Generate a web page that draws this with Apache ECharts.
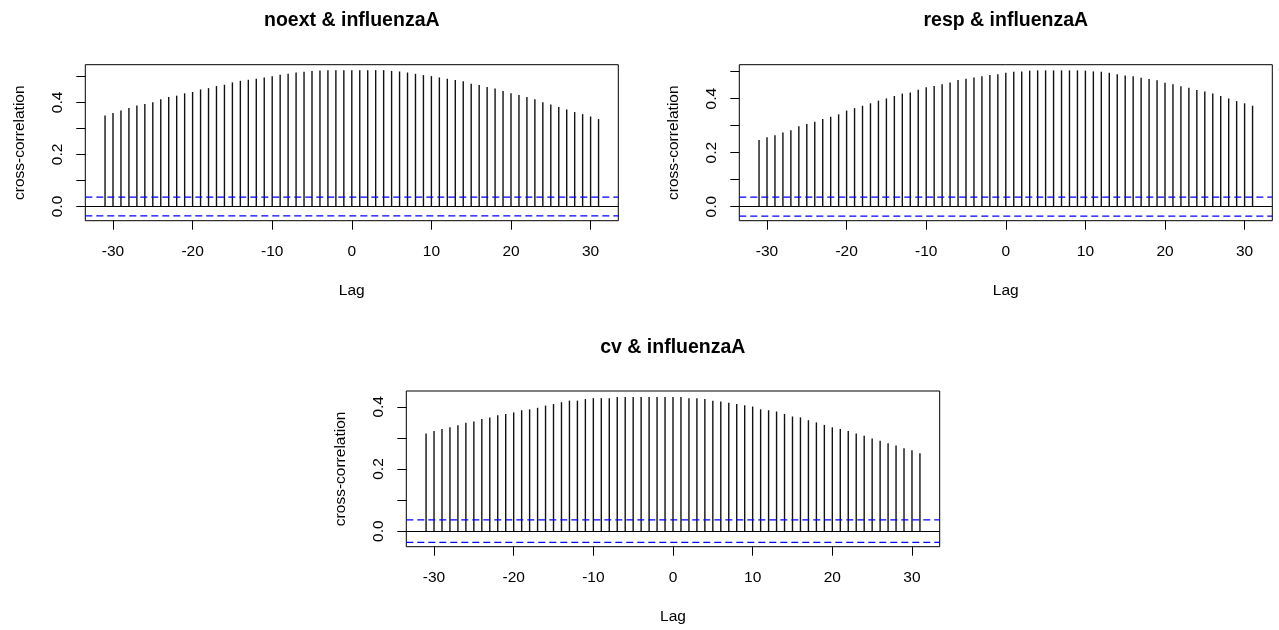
<!DOCTYPE html>
<html>
<head>
<meta charset="utf-8">
<script src="https://cdn.jsdelivr.net/npm/echarts@6/dist/echarts.min.js"></script>
<style>html,body{margin:0;padding:0;background:#fff}#c{width:1279px;height:630px}</style>
</head>
<body>
<div id="c"></div>
<script>
const lags = [-31,-30,-29,-28,-27,-26,-25,-24,-23,-22,-21,-20,-19,-18,-17,-16,-15,-14,-13,-12,-11,-10,-9,-8,-7,-6,-5,-4,-3,-2,-1,0,1,2,3,4,5,6,7,8,9,10,11,12,13,14,15,16,17,18,19,20,21,22,23,24,25,26,27,28,29,30,31];
const noext = [0.350,0.359,0.369,0.379,0.388,0.394,0.401,0.412,0.421,0.426,0.435,0.440,0.450,0.455,0.463,0.468,0.477,0.483,0.487,0.491,0.496,0.501,0.506,0.510,0.515,0.518,0.521,0.523,0.524,0.524,0.524,0.524,0.524,0.524,0.524,0.524,0.521,0.519,0.515,0.510,0.505,0.501,0.496,0.491,0.486,0.481,0.472,0.467,0.459,0.454,0.444,0.435,0.429,0.421,0.412,0.401,0.392,0.382,0.373,0.363,0.355,0.346,0.336];
const resp = [0.247,0.257,0.265,0.275,0.283,0.298,0.306,0.315,0.325,0.333,0.342,0.356,0.365,0.374,0.383,0.393,0.401,0.410,0.419,0.423,0.433,0.442,0.447,0.454,0.460,0.469,0.474,0.479,0.483,0.488,0.491,0.496,0.500,0.501,0.504,0.505,0.505,0.505,0.505,0.505,0.505,0.504,0.501,0.500,0.496,0.491,0.486,0.483,0.478,0.473,0.468,0.459,0.454,0.446,0.441,0.432,0.427,0.419,0.410,0.401,0.391,0.383,0.374];
const cv = [0.314,0.322,0.329,0.334,0.341,0.349,0.353,0.361,0.366,0.373,0.377,0.382,0.389,0.392,0.397,0.404,0.409,0.415,0.420,0.420,0.425,0.428,0.428,0.428,0.432,0.432,0.432,0.432,0.432,0.432,0.432,0.432,0.432,0.428,0.428,0.425,0.420,0.417,0.413,0.409,0.405,0.401,0.392,0.389,0.385,0.377,0.369,0.366,0.357,0.350,0.342,0.334,0.329,0.322,0.314,0.307,0.298,0.291,0.283,0.276,0.267,0.260,0.251];
const titles = ['noext & influenzaA', 'resp & influenzaA', 'cv & influenzaA'];
const ciLimits = [0.036, 0.035, 0.036];
const xRange = [-33.48, 33.48];
const xTicks = [-30,-20,-10,0,10,20,30];
const yTickSets = [[0,0.1,0.2,0.3,0.4,0.5],[0,0.1,0.2,0.3,0.4,0.5],[0,0.1,0.2,0.3,0.4]];
const yLabelVals = [0,0.2,0.4];
const xLabel = 'Lag';
const yLabel = 'cross-correlation';

const FONT = 'Liberation Sans, Arial, sans-serif';
const panels = [
  {left:85.3, top:64.7, width:533, height:156, ymin:-0.0546, ymax:0.545, tx:351.8, ty:11},
  {left:739.3, top:64.7, width:533, height:156, ymin:-0.052, ymax:0.526, tx:1005.8, ty:11},
  {left:406.3, top:391, width:533.4, height:155.7, ymin:-0.050, ymax:0.451, tx:672.8, ty:337.3}
];
const seriesData = [noext, resp, cv];

const chart = echarts.init(document.getElementById('c'), null, {renderer:'canvas'});
const series = [];
panels.forEach((p,i)=>{
  series.push({
    type:'bar', xAxisIndex:i, yAxisIndex:i,
    data: lags.map((l,k)=>[l, seriesData[i][k]]),
    barWidth: 1.4,
    itemStyle:{color:'#111'},
    silent:true,
    markLine:{
      silent:true, symbol:'none', label:{show:false},
      lineStyle:{color:'#000', type:'solid', width:1},
      data:[{yAxis:0}]
    }
  });
  [ciLimits[i], -ciLimits[i]].forEach(c=>{
    series.push({
      type:'line', xAxisIndex:i, yAxisIndex:i, silent:true,
      showSymbol:false, symbol:'none',
      data:[[xRange[0], c],[xRange[1], c]],
      lineStyle:{color:'#0000ff', type:[7,4], width:1.2},
      itemStyle:{color:'#0000ff'}
    });
  });
});
const option = {
  animation: false,
  backgroundColor: '#fff',
  title: panels.map((p,i)=>({
    text: titles[i], left: p.tx, top: p.ty, textAlign: 'center', padding: 0,
    textStyle: {fontFamily: FONT, fontWeight: 'bold', fontSize: 19.5, color: '#000'}
  })),
  grid: panels.map(p=>({left:p.left, top:p.top, width:p.width, height:p.height, show:true, borderColor:'#000', borderWidth:1, backgroundColor:'transparent'})),
  xAxis: panels.map((p,i)=>({
    type:'value', gridIndex:i, min:xRange[0], max:xRange[1],
    axisLine:{show:false, onZero:false},
    splitLine:{show:false},
    axisTick:{show:true, length:9, lineStyle:{color:'#000'}, customValues: xTicks},
    axisLabel:{show:true, margin:23, color:'#000', fontFamily:FONT, fontSize:15.5, customValues: xTicks, formatter: v=>String(v)},
    name: xLabel, nameLocation:'middle', nameGap:62,
    nameTextStyle:{fontFamily:FONT, fontSize:15.5, color:'#000'}
  })),
  yAxis: panels.map((p,i)=>({
    type:'value', gridIndex:i, min:p.ymin, max:p.ymax,
    axisLine:{show:false, onZero:false},
    splitLine:{show:false},
    axisTick:{show:true, length:9, lineStyle:{color:'#000'}, customValues: yTickSets[i]},
    axisLabel:{show:true, rotate:90, margin:20, color:'#000', fontFamily:FONT, fontSize:15.5, customValues: yLabelVals, formatter: v=>v.toFixed(1)},
    name: yLabel, nameLocation:'middle', nameGap:58, nameRotate: 90,
    nameTextStyle:{fontFamily:FONT, fontSize:15.5, color:'#000'}
  })),
  series: series
};
chart.setOption(option);
</script>
</body>
</html>
